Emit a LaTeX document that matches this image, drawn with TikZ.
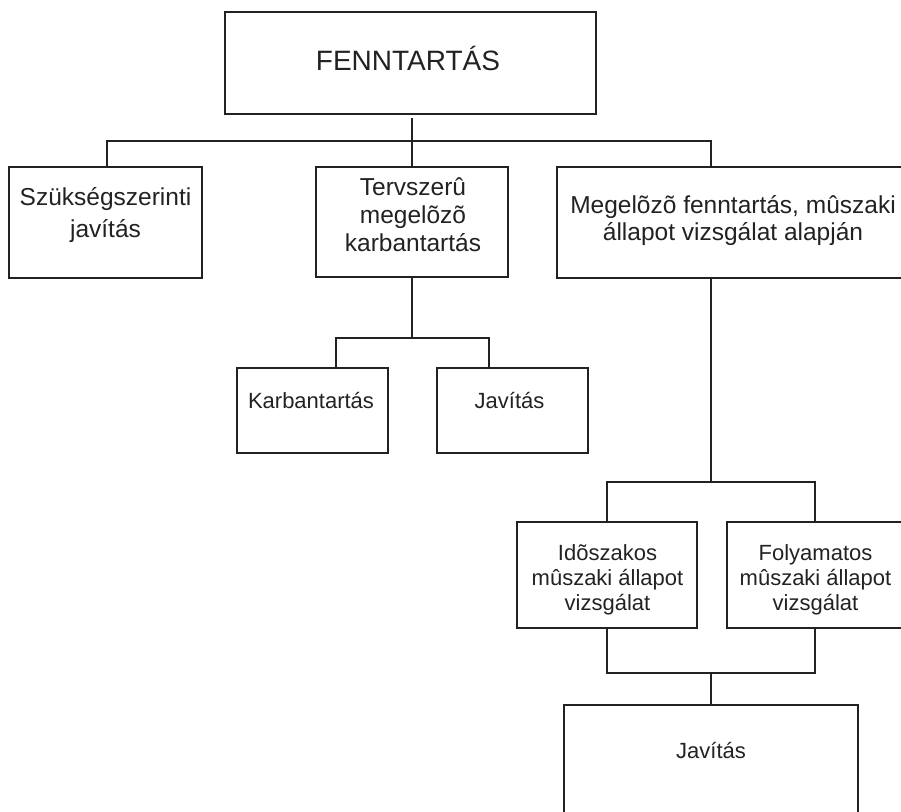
\documentclass[tikz,border=0pt]{standalone}
\usepackage{fontspec}
\setmainfont{Liberation Sans}
\usetikzlibrary{calc}
\definecolor{ink}{HTML}{222222}
\begin{document}
\begin{tikzpicture}[x=1pt,y=-1pt,
  box/.style={draw=ink, line width=2.9pt, rectangle, inner sep=0pt},
  wire/.style={draw=ink, line width=2.9pt},
  big/.style={font=\fontsize{28}{34}\selectfont, text=ink, anchor=base, inner sep=0pt},
  mid/.style={font=\fontsize{24.5}{29}\selectfont, text=ink, anchor=base, inner sep=0pt},
  sml/.style={font=\fontsize{22}{26}\selectfont, text=ink, anchor=base, inner sep=0pt}]
\useasboundingbox (0,0) rectangle (901,811);
\clip (0,0) rectangle (901,811);
% boxes
\node[box, minimum width=371, minimum height=102] (top) at (410.5,63) {};
\node[box, minimum width=193, minimum height=111] (b1) at (105.5,222.5) {};
\node[box, minimum width=192, minimum height=110] (b2) at (412,222) {};
\node[box, minimum width=368, minimum height=111] (b3) at (741,222.5) {};
\node[box, minimum width=151, minimum height=85] (b4) at (312.5,410.5) {};
\node[box, minimum width=151, minimum height=85] (b5) at (512.5,410.5) {};
\node[box, minimum width=180, minimum height=106] (b6) at (607,575) {};
\node[box, minimum width=198, minimum height=106] (b7) at (826,575) {};
\node[box, minimum width=294, minimum height=125] (b8) at (711,767.5) {};
% texts
\node[big] (t0) at (408,70) {FENNTARTÁS};
\node[mid] (t1a) at (105.5,205) {Szükségszerinti};
\node[mid] (t1b) at (105.5,237) {javítás};
\node[mid] (t2a) at (413,195) {Tervszerû};
\node[mid] (t2b) at (413,223) {megelõzõ};
\node[mid] (t2c) at (413,251) {karbantartás};
\node[mid] (t3a) at (733,213) {Megelõzõ fenntartás, mûszaki};
\node[mid] (t3b) at (733,240) {állapot vizsgálat alapján};
\node[sml] (t4) at (311,408) {Karbantartás};
\node[sml] (t5) at (509.5,408) {Javítás};
\node[sml] (t6a) at (607.5,560) {Idõszakos};
\node[sml] (t6b) at (607.5,585) {mûszaki állapot};
\node[sml] (t6c) at (607.5,610) {vizsgálat};
\node[sml] (t7a) at (815.5,560) {Folyamatos};
\node[sml] (t7b) at (815.5,585) {mûszaki állapot};
\node[sml] (t7c) at (815.5,610) {vizsgálat};
\node[sml] (t8) at (711,758) {Javítás};
% connectors
\coordinate (bus1) at (412,141);
\coordinate (bus2) at (412,338);
\coordinate (bus3) at (711,482);
\coordinate (bus4) at (711,673);
\draw[wire] ($(b2.north |- top.south)+(0,3)$) -- (b2.north);
\draw[wire] ([xshift=1.5pt]b1.north) |- (bus1) -| ([xshift=-30pt]b3.north);
\draw[wire] (b2.south) -- (bus2);
\draw[wire] ([xshift=23.5pt]b4.north) |- (bus2) -| ([xshift=-23.5pt]b5.north);
\draw[wire] ([xshift=-30pt]b3.south) -- (bus3);
\draw[wire] (b6.north) |- (bus3) -| ([xshift=-11pt]b7.north);
\draw[wire] (b6.south) |- (bus4) -| ([xshift=-11pt]b7.south);
\draw[wire] (bus4) -- (b8.north);
\end{tikzpicture}
\end{document}
